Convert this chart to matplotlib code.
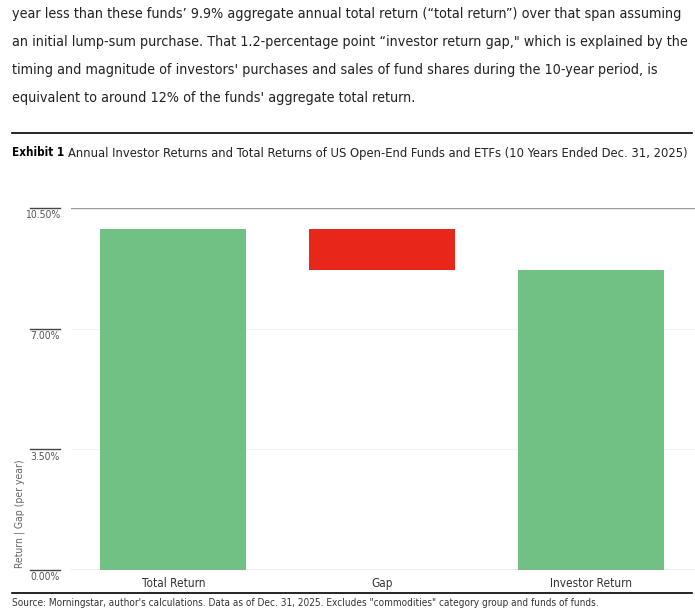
import matplotlib.pyplot as plt
import matplotlib.transforms as mtransforms
from matplotlib.lines import Line2D

# --- Dati ---
categories = ['Total Return', 'Gap', 'Investor Return']
total_return = 9.9
investor_return = 8.7
gap = total_return - investor_return
y_ticks = [0.0, 3.5, 7.0, 10.5]

intro_lines = [
    "year less than these funds\u2019 9.9% aggregate annual total return (\u201ctotal return\u201d) over that span assuming",
    "an initial lump-sum purchase. That 1.2-percentage point \u201cinvestor return gap,\" which is explained by the",
    "timing and magnitude of investors' purchases and sales of fund shares during the 10-year period, is",
    "equivalent to around 12% of the funds' aggregate total return.",
]
source_text = ("Source: Morningstar, author's calculations. Data as of Dec. 31, 2025. "
               "Excludes \"commodities\" category group and funds of funds.")

plt.rcParams['font.family'] = ['DejaVu Sans']
plt.rcParams['font.stretch'] = 'condensed'

green = '#72c184'
red = '#e8261a'

fig = plt.figure(figsize=(6.95, 6.15), dpi=100)
renderer = fig.canvas.get_renderer()


def fit(t, width_px):
    # adatta la dimensione del font alla larghezza voluta
    w = t.get_window_extent(renderer).width
    t.set_fontsize(t.get_fontsize() * width_px / w)
    return t.get_fontsize()


# testo introduttivo: stessa dimensione per tutte le righe
intro_y = [14, 42, 70, 98]
texts = [fig.text(12 / 695, 1 - yy / 615, line, ha='left', va='center', fontsize=12.5, color='#222222')
         for line, yy in zip(intro_lines, intro_y)]
fs = fit(texts[1], 676)
for t in texts:
    t.set_fontsize(fs)

# linea sopra il titolo
fig.add_artist(Line2D([12 / 695, 692 / 695], [1 - 133 / 615] * 2, color='black', lw=1.2))
t1 = fig.text(12 / 695, 1 - 153 / 615, 'Exhibit 1', ha='left', va='center', fontsize=10.5,
              fontweight='bold')
fit(t1, 52)
t2 = fig.text(68 / 695, 1 - 153 / 615,
              'Annual Investor Returns and Total Returns of US Open-End Funds and ETFs (10 Years Ended Dec. 31, 2025)',
              ha='left', va='center', fontsize=10.5, color='#222222')
fit(t2, 622)

ax = fig.add_axes([71 / 695, 1 - 570 / 615, 624 / 695, (570 - 208) / 615])

# barre (cascata)
x = range(len(categories))
ax.bar(0, total_return, width=0.7, color=green)
ax.bar(1, gap, bottom=investor_return, width=0.7, color=red)
ax.bar(2, investor_return, width=0.7, color=green)

ax.set_xlim(-0.49, 2.5)
ax.set_ylim(0, 10.5)

for s in ax.spines.values():
    s.set_visible(False)
ax.axhline(0, color='#9a9a9a', lw=1)
ax.axhline(10.5, color='#9a9a9a', lw=1)
for t in y_ticks[1:-1]:
    ax.axhline(t, color='#f2f2f2', lw=0.8, zorder=0)

ax.set_yticks([])
ax.set_xticks(list(x))
ax.set_xticklabels(categories, fontsize=8.5, color='#333333')
ax.tick_params(axis='x', length=0, pad=5)

# etichette asse y con trattino sopra
trans = mtransforms.blended_transform_factory(fig.transFigure, ax.transData)
for t in y_ticks:
    fig.add_artist(Line2D([30 / 695, 60 / 695], [t, t], transform=trans, color='#444444', lw=1))
    ax.text(60 / 695, t - 0.07, f'{t:.2f}%', transform=trans, ha='right', va='top',
            fontsize=7.5, color='#555555')

ax.text(20 / 695, 0.05, 'Return | Gap (per year)', transform=trans, rotation=90,
        ha='center', va='bottom', fontsize=7.5, color='#666666')

# linea e fonte in basso
fig.add_artist(Line2D([12 / 695, 692 / 695], [1 - 593 / 615] * 2, color='black', lw=1.2))
ts = fig.text(12 / 695, 1 - 603 / 615, source_text, ha='left', va='center', fontsize=8.5, color='#333333')
fit(ts, 583)

fig.savefig('out.png', dpi=100)
